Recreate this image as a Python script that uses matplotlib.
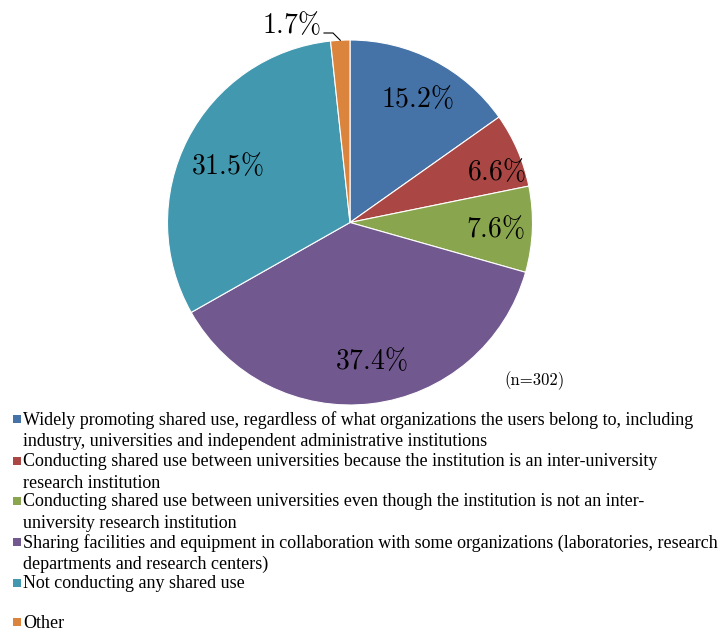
import numpy as np
import matplotlib
matplotlib.use("Agg")
import matplotlib.pyplot as plt
from matplotlib.patches import Rectangle

plt.rcParams['mathtext.fontset'] = 'cm'

# Shared use of facilities (n=302)

shares = [15.2, 6.6, 7.6, 37.4, 31.5, 1.7]
colors = ["#4572A7", "#AA4643", "#89A54E", "#71588F", "#4198AF", "#DB843D"]
legend_lines = [
    ["Widely promoting shared use, regardless of what organizations the users belong to, including",
     "industry, universities and independent administrative institutions"],
    ["Conducting shared use between universities because the institution is an inter-university",
     "research institution"],
    ["Conducting shared use between universities even though the institution is not an inter-",
     "university research institution"],
    ["Sharing facilities and equipment in collaboration with some organizations (laboratories, research",
     "departments and research centers)"],
    ["Not conducting any shared use"],
    ["Other"],
]
n_label = "(n=302)"

# figure in pixel coordinates, y pointing down
fig = plt.figure(figsize=(7.27, 6.30), dpi=100)
ax = fig.add_axes([0, 0, 1, 1])

cx, cy, R = 350, 222.5, 182.5
ax.pie(shares, colors=colors, startangle=270, counterclock=True,
       center=(cx, cy), radius=R, frame=True,
       wedgeprops=dict(edgecolor="white", linewidth=0.8))
ax.set_xlim(0, 727)
ax.set_ylim(630, 0)
ax.axis('off')

# label placement: (radius fraction, angle shift in degrees)
label_pos = [(0.77, 1.5), (0.85, 4.5), (0.80, 0.5), (0.77, -2.0), (0.74, -2.5)]
cum = np.cumsum([0] + shares[:-1])
total = sum(shares)
for i, v in enumerate(shares):
    mid = np.deg2rad(270 + (cum[i] + v / 2) / total * 360)
    if i < 5:
        rf, shift = label_pos[i]
        a = mid + np.deg2rad(shift)
        x = cx + rf * R * np.cos(a)
        y = cy + rf * R * np.sin(a)
        ax.text(x, y, r'$%.1f\%%$' % v, ha='center', va='center', fontsize=20)
    else:
        ex = cx + R * np.cos(mid)
        ey = cy + R * np.sin(mid)
        ax.plot([324, 333, ex], [33, 33, ey], color="black", linewidth=0.8)
        ax.text(321, 25, r'$%.1f\%%$' % v, ha='right', va='center', fontsize=20)

ax.text(534, 381, n_label, ha='center', va='center', family='cmr10', fontsize=12)

# legend
item_y = [420, 462, 502, 543, 584, 623]
clip_bottom = [445, 490, 527, 575, 600, 630]
for k, lines in enumerate(legend_lines):
    y0 = item_y[k]
    ax.add_patch(Rectangle((13, y0 - 5), 8, 8, facecolor=colors[k], edgecolor='none'))
    clip = Rectangle((0, y0 - 15), 727, clip_bottom[k] - (y0 - 15),
                     transform=ax.transData, visible=False)
    ax.add_patch(clip)
    for j, line in enumerate(lines):
        t = ax.text(23, y0 + j * 21, line, ha='left', va='center',
                    family='Liberation Serif', fontsize=13.0)
        t.set_clip_path(clip)

fig.savefig("out.png", dpi=100)
